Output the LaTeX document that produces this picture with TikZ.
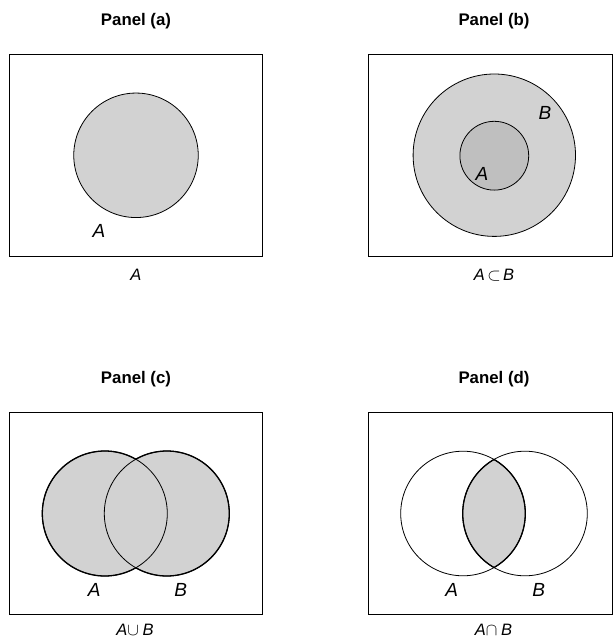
\documentclass[tikz,border=0pt]{standalone}
\usepackage{fontspec}
\setmainfont{Liberation Sans}
\begin{document}
\begin{tikzpicture}[x=1pt,y=-1pt,
  title/.style={font=\bfseries\fontsize{16.8}{18}\selectfont, inner sep=0pt},
  lab/.style={font=\itshape\fontsize{19}{21}\selectfont, inner sep=0pt},
  captext/.style={font=\itshape\fontsize{16.5}{18}\selectfont, inner sep=0pt},
  frame/.style={draw=black, line width=0.9pt},
  thinline/.style={draw=black, line width=0.8pt},
  shadeA/.style={fill=gray!35},
  shadeB/.style={fill=gray!50}]
\useasboundingbox (0,0) rectangle (613,638);
\fill[white] (0,0) rectangle (613,638);

% ---------- Panel (a)
\node[title] (ta) at (136,21) {Panel (a)};
\node[frame, rectangle, minimum width=252.5pt, minimum height=201.5pt, inner sep=0pt] (ra) at (135.75,155.25) {};
\node[circle, thinline, shadeA, minimum size=124.5pt, inner sep=0pt] (ca) at (136,155.3) {};
\node[lab] (la) at (99,231) {A};
\node[captext] (capa) at (136,275) {A};

% ---------- Panel (b)
\node[title] (tb) at (494,21) {Panel (b)};
\node[frame, rectangle, minimum width=244.6pt, minimum height=201.5pt, inner sep=0pt] (rb) at (490.3,155.25) {};
\node[circle, thinline, shadeA, minimum size=162.4pt, inner sep=0pt] (cbB) at (494.3,155.2) {};
\node[circle, thinline, shadeB, minimum size=68.8pt, inner sep=0pt] (cbA) at (494.3,155.7) {};
\node[lab] (lbB) at (545,113) {B};
\node[lab] (lbA) at (482,174) {A};
\node[captext] (capb) at (494,275) {A\hspace{2.5pt}\ensuremath{\subset}\hspace{2.5pt}B};

% ---------- Panel (c)
\node[title] (tc) at (136,379) {Panel (c)};
\node[frame, rectangle, minimum width=252.5pt, minimum height=201.7pt, inner sep=0pt] (rc) at (135.75,513.15) {};
\fill[gray!35] (104.8,513.5) circle (62.5) (166.8,513.5) circle (62.5);
\node[circle, thinline, minimum size=125pt, inner sep=0pt] (ccA) at (104.8,513.5) {};
\node[circle, thinline, minimum size=125pt, inner sep=0pt] (ccB) at (166.8,513.5) {};
\begin{scope}
  \clip (0,380) rectangle (613,638) (166.8,513.5) circle (62.5);
  \draw[line width=1.3pt] (ccA.center) circle (62.5);
\end{scope}
\begin{scope}
  \clip (0,380) rectangle (613,638) (104.8,513.5) circle (62.5);
  \draw[line width=1.3pt] (ccB.center) circle (62.5);
\end{scope}
\node[lab] (lcA) at (94.3,589.5) {A};
\node[lab] (lcB) at (180.7,589.5) {B};
\node[captext] (capc) at (135,629.5) {A\ensuremath{\cup}\hspace{3.5pt}B};

% ---------- Panel (d)
\node[title] (td) at (494,379) {Panel (d)};
\node[frame, rectangle, minimum width=244.6pt, minimum height=201.7pt, inner sep=0pt] (rd) at (490.3,513.15) {};
\begin{scope}
  \clip (463,513.5) circle (62.3);
  \fill[gray!35] (525,513.5) circle (62.3);
  \draw[line width=1.3pt] (525,513.5) circle (62.3);
\end{scope}
\begin{scope}
  \clip (525,513.5) circle (62.3);
  \draw[line width=1.3pt] (463,513.5) circle (62.3);
\end{scope}
\node[circle, thinline, minimum size=124.6pt, inner sep=0pt] (cdA) at (463,513.5) {};
\node[circle, thinline, minimum size=124.6pt, inner sep=0pt] (cdB) at (525,513.5) {};
\node[lab] (ldA) at (451.7,589.5) {A};
\node[lab] (ldB) at (538.7,589.5) {B};
\node[captext] (capd) at (493.5,629.5) {A\ensuremath{\cap}\hspace{3.5pt}B};
\end{tikzpicture}
\end{document}
